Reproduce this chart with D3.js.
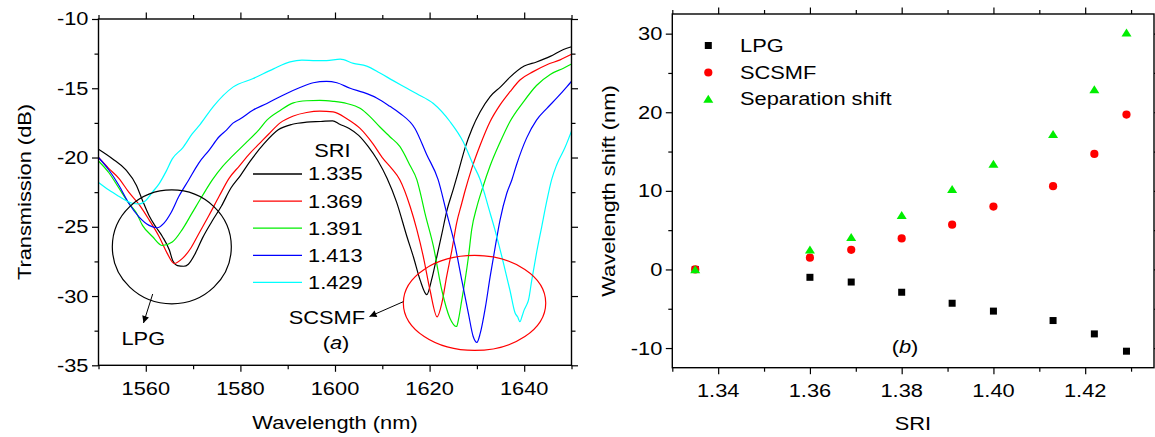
<!DOCTYPE html>
<html><head><meta charset="utf-8">
<script src="https://cdn.jsdelivr.net/npm/d3@7"></script>
<style>
html,body{margin:0;padding:0;background:#fff;}
text{font-family:"Liberation Sans",Arial,Helvetica,sans-serif;font-size:18.5px;fill:#000;}
</style></head>
<body><svg id="chart" width="1155" height="437"></svg>
<script>
// ---------- Panel (a): transmission spectra ----------
const sriLabels = ["1.335", "1.369", "1.391", "1.413", "1.429"];

const wl1335 = [1550,1553,1555.8,1558,1559.3,1560.7,1562.1,1563.5,1565,1565.7,1566.7,1568,1569,1570.5,1572,1574,1576,1578,1580,1582,1585,1588,1591,1594,1597,1599.5,1601,1603,1605,1607,1609,1611,1613,1615.2,1616.6,1618,1619.4,1620.4,1621.5,1622.6,1623.6,1625,1626.1,1627.5,1629,1630.7,1632.8,1635,1637,1640,1642.6,1645.5,1648.3,1650];
const tr1335 = [-19.4,-20.1,-20.9,-22.0,-23.1,-24.2,-25.0,-25.7,-26.7,-27.45,-27.8,-27.85,-27.7,-26.9,-25.8,-24.6,-23.5,-22.2,-21.3,-20.3,-19.0,-18.0,-17.6,-17.45,-17.4,-17.35,-17.6,-17.9,-18.4,-19.2,-20.2,-21.5,-23.2,-25.7,-27.2,-28.85,-29.9,-28.85,-27.2,-25.5,-23.9,-22.3,-21.0,-19.3,-17.9,-16.7,-15.6,-14.9,-14.2,-13.4,-13.1,-12.7,-12.2,-12.0];

const wl1369 = [1550,1552.2,1554.3,1556.4,1558.6,1560.7,1562.8,1564.5,1566,1567.7,1569.5,1571.2,1573.4,1575.5,1577.6,1579.8,1582,1584,1586,1588.4,1591.2,1594,1596.8,1599.6,1602.5,1605.3,1608,1610,1612,1613.7,1615.9,1617.3,1618.7,1620.1,1621.6,1622.6,1623.6,1624.7,1625.7,1626.8,1627.5,1628.9,1630.7,1632.8,1634.9,1637,1639.1,1641.9,1644.8,1647.6,1650];
const tr1369 = [-20.0,-20.8,-21.5,-22.5,-23.4,-24.5,-25.7,-26.9,-27.65,-27.3,-26.55,-25.5,-24.15,-22.8,-21.5,-20.6,-19.7,-19.0,-18.3,-17.5,-17.0,-16.75,-16.65,-16.7,-17.2,-17.9,-19.0,-20.0,-20.8,-21.6,-23.55,-25.2,-27.2,-29.6,-31.5,-30.5,-28.6,-26.7,-24.75,-23.3,-22.4,-20.8,-19.1,-17.4,-16.2,-15.25,-14.4,-13.8,-13.3,-12.95,-12.55];

const wl1391 = [1550,1552.2,1554.3,1556.4,1558,1559.3,1561.4,1563.5,1565.6,1567.7,1569.8,1571.9,1574.1,1576.2,1578.3,1581,1583.9,1585.6,1588.4,1591.2,1594,1596.8,1599.6,1602.5,1605.3,1607.4,1609.5,1611.6,1613.7,1615.9,1617.3,1618,1619,1620.8,1622.6,1624.3,1625.7,1626.1,1626.8,1627.5,1628.2,1628.9,1630,1631.2,1632.8,1634.9,1637,1639.8,1642.6,1645.5,1648.3,1650];
const tr1391 = [-20.25,-21.1,-22.2,-23.3,-24.0,-24.9,-25.7,-26.35,-26.1,-25.2,-24.0,-22.8,-21.6,-20.66,-19.9,-19.0,-18.0,-17.3,-16.6,-16.05,-15.9,-15.87,-15.94,-16.1,-16.45,-17.05,-17.8,-18.5,-19.2,-20.6,-21.6,-22.5,-24.0,-26.4,-29.6,-31.6,-32.2,-31.7,-30.3,-28.85,-27.2,-25.2,-23.55,-22.2,-20.6,-18.9,-17.4,-16.0,-14.8,-14.0,-13.55,-13.25];

const wl1413 = [1550,1552.2,1554.3,1556.4,1558.6,1560.7,1562.4,1563.8,1565.3,1567,1569.1,1571.2,1573.4,1575.5,1577.1,1578.5,1580,1582.7,1585.6,1589,1592.6,1595.4,1598.2,1600.4,1603.2,1606,1608.8,1611.6,1613.7,1616.9,1619.4,1621.8,1623.6,1625.4,1626.8,1628.2,1629.2,1630,1630.7,1631.8,1632.8,1633.9,1634.9,1636.3,1637.4,1638.4,1640.5,1642.6,1644.8,1646.9,1649,1650];
const tr1413 = [-20.0,-20.9,-22.0,-23.3,-24.3,-24.9,-25.07,-24.75,-24.0,-22.8,-21.6,-20.4,-19.46,-18.5,-18.0,-17.5,-17.2,-16.57,-16.1,-15.5,-14.95,-14.6,-14.5,-14.6,-15.0,-15.3,-15.7,-16.3,-16.8,-17.9,-19.8,-21.6,-24.0,-26.4,-28.85,-31.25,-32.9,-33.35,-32.7,-30.8,-28.6,-26.4,-24.5,-22.6,-21.6,-20.5,-18.6,-17.3,-16.45,-15.7,-14.9,-14.5];

const wl1429 = [1550,1552.2,1554.3,1555.8,1557.1,1558.6,1560,1561.4,1562.8,1564.3,1565.6,1567.8,1569.8,1571.5,1574.3,1578.5,1582.7,1587,1590.5,1593,1596,1598.2,1601.1,1603.9,1606.7,1609.5,1612.3,1615.2,1617.3,1620.8,1624.3,1627.1,1629.2,1630.7,1631.7,1632.4,1633.8,1635.6,1637,1638.1,1638.6,1639.1,1639.6,1640,1640.5,1640.9,1641.6,1642.6,1643.7,1644.8,1645.8,1646.9,1648.6,1650];
const tr1429 = [-21.8,-22.35,-22.8,-23.1,-23.3,-23.35,-23.1,-22.5,-21.9,-21.0,-20.1,-19.3,-18.3,-17.6,-16.3,-14.9,-14.3,-13.6,-13.1,-12.97,-13.0,-13.0,-12.9,-13.2,-13.4,-13.9,-14.45,-15.0,-15.4,-16.1,-17.4,-18.86,-20.5,-21.6,-22.7,-23.55,-25.2,-27.6,-29.6,-31.25,-31.5,-31.85,-31.4,-31.0,-30.65,-30.3,-28.85,-26.9,-25.0,-23.1,-21.6,-20.5,-19.3,-18.1];

const wlTicksMajor = [1560, 1580, 1600, 1620, 1640];
const wlTicksMinor = [1550, 1570, 1590, 1610, 1630, 1650];
const trTicksMajor = [-10, -15, -20, -25, -30, -35];
const trTicksMinor = [-12.5, -17.5, -22.5, -27.5, -32.5];

// ---------- Panel (b): wavelength shifts ----------
const sri = [1.335, 1.36, 1.369, 1.38, 1.391, 1.40, 1.413, 1.422, 1.429];
const lpgShift = [0, -1.0, -1.6, -2.9, -4.3, -5.3, -6.5, -8.2, -10.4];
const scsmfShift = [0, 1.5, 2.5, 3.95, 5.7, 8.0, 10.6, 14.7, 19.7];
const sepShift = [0, 2.5, 4.1, 6.9, 10.2, 13.4, 17.2, 22.9, 30.1];
const shiftLegend = ["LPG", "SCSMF", "Separation shift"];

const sriTicksMajor = [1.34, 1.36, 1.38, 1.40, 1.42];
const sriTicksMinor = [1.33, 1.35, 1.37, 1.39, 1.41, 1.43];
const shiftTicksMajor = [30, 20, 10, 0, -10];
const shiftTicksMinor = [25, 15, 5, -5];

// ---------- drawing ----------
const SX = 1.18;
const svg = d3.select("#chart");
svg.append("rect").attr("width", 1155).attr("height", 437).attr("fill", "#fff");

const spectra = [
  {wl: wl1335, tr: tr1335}, {wl: wl1369, tr: tr1369}, {wl: wl1391, tr: tr1391},
  {wl: wl1413, tr: tr1413}, {wl: wl1429, tr: tr1429}
];
const specColors = ["#000000", "#ff0000", "#00ee00", "#0000ff", "#00ffff"];

function txt(g, x, y, s, anchor, rot) {
  return g.append("text")
    .attr("transform", `translate(${x},${y})` + (rot ? ` rotate(${rot})` : "") + ` scale(${SX},1)`)
    .attr("text-anchor", anchor || "start")
    .text(s);
}
const fmt = d => (d < 0 ? "-" : "") + Math.abs(d);

function frameAxes(g, x, y, xMaj, xMin, yMaj, yMin, xFmt, yFmt) {
  const [x0, x1] = x.range(), [y0, y1] = y.range();
  const mk = (axisFn, scale, vals, size, tr) => {
    const a = g.append("g").attr("transform", tr)
      .call(axisFn(scale).tickValues(vals).tickSize(size).tickSizeOuter(0).tickFormat(""));
    a.select(".domain").remove();
    a.selectAll("line").attr("stroke", "#000").attr("stroke-width", 1.2);
    return a;
  };
  mk(d3.axisBottom, x, xMin, 4, `translate(0,${y0})`);
  mk(d3.axisTop, x, xMin, 4, `translate(0,${y1})`);
  mk(d3.axisBottom, x, xMaj, 6.5, `translate(0,${y0})`);
  mk(d3.axisTop, x, xMaj, 6.5, `translate(0,${y1})`);
  mk(d3.axisLeft, y, yMin, 4, `translate(${x0},0)`);
  mk(d3.axisRight, y, yMin, 4, `translate(${x1},0)`);
  mk(d3.axisLeft, y, yMaj, 6.5, `translate(${x0},0)`);
  mk(d3.axisRight, y, yMaj, 6.5, `translate(${x1},0)`);
  g.append("rect").attr("x", x0).attr("y", y1).attr("width", x1 - x0).attr("height", y0 - y1)
    .attr("fill", "none").attr("stroke", "#000").attr("stroke-width", 1.4);
  xMaj.forEach(v => txt(g, x(v), y0 + 29.5, xFmt(v), "middle"));
  yMaj.forEach(v => txt(g, x0 - 10, y(v), yFmt(v), "end").attr("dy", "0.35em"));
}

// Panel (a)
const gA = svg.append("g");
const xA = d3.scaleLinear().domain([1550, 1650]).range([98.5, 571.5]);
const yA = d3.scaleLinear().domain([-35, -10]).range([365.3, 19]);
const line = d3.line().x(d => xA(d[0])).y(d => yA(d[1])).curve(d3.curveMonotoneX);
const clipA = svg.append("clipPath").attr("id", "clipA").append("rect")
  .attr("x", 98.5).attr("y", 19).attr("width", 473).attr("height", 346.3);
spectra.forEach((s, i) => {
  gA.append("path").datum(s.wl.map((w, k) => [w, s.tr[k]]))
    .attr("d", line).attr("fill", "none").attr("stroke", specColors[i])
    .attr("stroke-width", 1.2).attr("clip-path", "url(#clipA)");
});
frameAxes(gA, xA, yA, wlTicksMajor, wlTicksMinor, trTicksMajor, trTicksMinor, d => String(d), fmt);
txt(gA, 335, 429, "Wavelength (nm)", "middle");
txt(gA, 30.5, 192, "Transmission (dB)", "middle", -90);

// legend (a)
txt(gA, 332.5, 156.5, "SRI", "middle");
sriLabels.forEach((lab, i) => {
  const yy = 174 + i * 27.1;
  gA.append("line").attr("x1", 253).attr("x2", 302).attr("y1", yy).attr("y2", yy)
    .attr("stroke", specColors[i]).attr("stroke-width", 1.3);
  txt(gA, 308, yy, lab, "start").attr("dy", "0.35em");
});

// annotations (a)
const defs = svg.append("defs");
defs.append("marker").attr("id", "arr").attr("viewBox", "0 0 10 10").attr("refX", 10).attr("refY", 5)
  .attr("markerWidth", 9).attr("markerHeight", 7).attr("markerUnits", "userSpaceOnUse").attr("orient", "auto")
  .append("path").attr("d", "M0,0 L10,5 L0,10 Z").attr("fill", "#000");
gA.append("ellipse").attr("cx", xA(1565.5)).attr("cy", yA(-26.45)).attr("rx", 59.5).attr("ry", 57)
  .attr("fill", "none").attr("stroke", "#000").attr("stroke-width", 1.2);
gA.append("ellipse").attr("cx", xA(1629.5)).attr("cy", yA(-30.5)).attr("rx", 71.2).attr("ry", 47.5)
  .attr("fill", "none").attr("stroke", "#ff0000").attr("stroke-width", 1.2);
gA.append("line").attr("x1", 152.7).attr("y1", 294).attr("x2", 143.5).attr("y2", 323)
  .attr("stroke", "#000").attr("stroke-width", 1).attr("marker-end", "url(#arr)");
txt(gA, 143.3, 344.5, "LPG", "middle");
gA.append("line").attr("x1", 403.3).attr("y1", 301.7).attr("x2", 369.5).attr("y2", 316.5)
  .attr("stroke", "#000").attr("stroke-width", 1).attr("marker-end", "url(#arr)");
txt(gA, 365, 323.5, "SCSMF", "end");
const ta = txt(gA, 336, 349, "", "middle");
ta.append("tspan").text("(");
ta.append("tspan").attr("font-style", "italic").text("a");
ta.append("tspan").text(")");

// Panel (b)
const gB = svg.append("g");
const xB = d3.scaleLinear().domain([1.33, 1.435]).range([672.3, 1154]);
const yB = d3.scaleLinear().domain([-12.5, 32.5]).range([367.7, 14]);
frameAxes(gB, xB, yB, sriTicksMajor, sriTicksMinor, shiftTicksMajor, shiftTicksMinor, d3.format(".2f"), fmt);
txt(gB, 913, 430, "SRI", "middle");
txt(gB, 614.5, 191, "Wavelength shift (nm)", "middle", -90);

const sq = 7, cr = 4.1;
const tri = (cx, cy) => `M${cx},${cy - 4.3} L${cx + 5},${cy + 3.7} L${cx - 5},${cy + 3.7} Z`;
gB.selectAll(".lpg").data(sri).join("rect").attr("class", "lpg")
  .attr("x", d => xB(d) - sq / 2).attr("y", (d, i) => yB(lpgShift[i]) - sq / 2)
  .attr("width", sq).attr("height", sq).attr("fill", "#000");
gB.selectAll(".scs").data(sri).join("circle").attr("class", "scs")
  .attr("cx", d => xB(d)).attr("cy", (d, i) => yB(scsmfShift[i])).attr("r", cr).attr("fill", "#ff0000");
gB.selectAll(".sep").data(sri).join("path").attr("class", "sep")
  .attr("d", (d, i) => tri(xB(d), yB(sepShift[i]))).attr("fill", "#00ee00");

// legend (b)
const lx = 708.3, ly = [45.5, 72.5, 99];
gB.append("rect").attr("x", lx - sq / 2).attr("y", ly[0] - sq / 2).attr("width", sq).attr("height", sq).attr("fill", "#000");
gB.append("circle").attr("cx", lx).attr("cy", ly[1]).attr("r", cr).attr("fill", "#ff0000");
gB.append("path").attr("d", tri(lx, ly[2])).attr("fill", "#00ee00");
shiftLegend.forEach((s, i) => txt(gB, 740, ly[i], s, "start").attr("dy", "0.35em"));
const tb = txt(gB, 905, 352.5, "", "middle");
tb.append("tspan").text("(");
tb.append("tspan").attr("font-style", "italic").text("b");
tb.append("tspan").text(")");
</script></body></html>
